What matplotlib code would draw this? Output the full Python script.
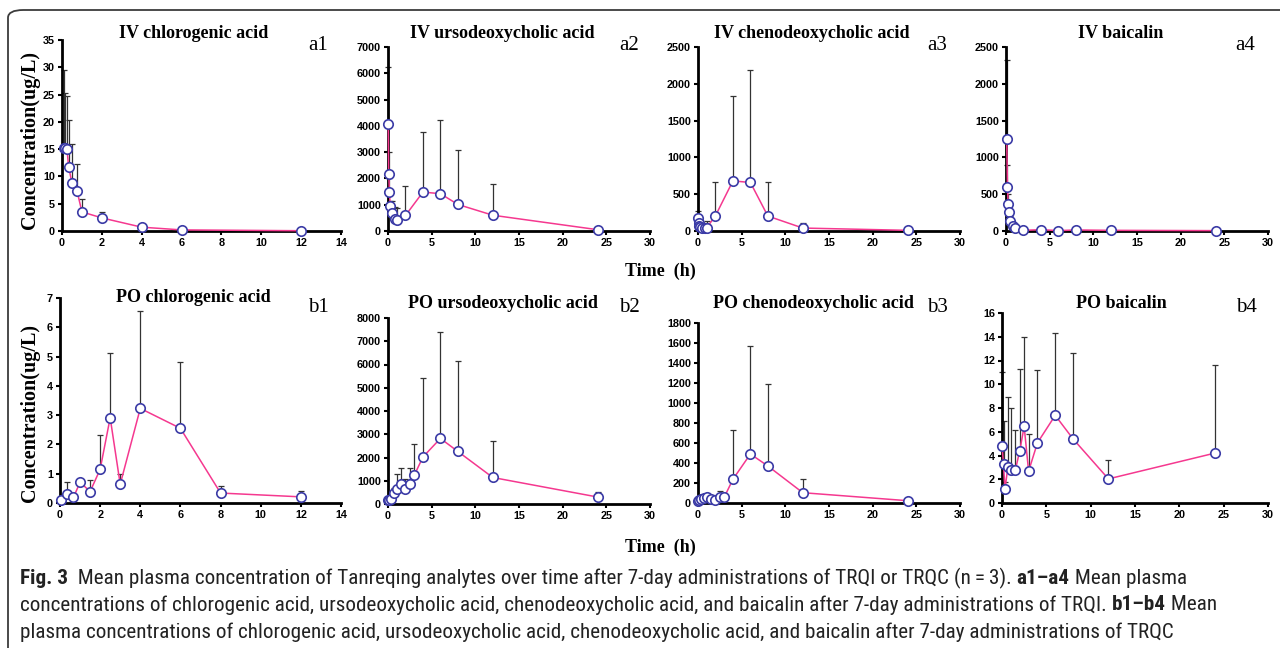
"""Fig 3: mean plasma concentration-time curves, IV (a1-a4) and PO (b1-b4)"""
import matplotlib
matplotlib.use('Agg')
import matplotlib.pyplot as plt
from matplotlib.patches import FancyBboxPatch
from matplotlib import font_manager
from matplotlib.font_manager import FontProperties
import numpy as np

W, H = 1280, 648
SERIF = 'Liberation Serif'
TICKF = 'Liberation Sans'

# ---- data (mean and mean+SD) ----
t_iv = [0.033, 0.083, 0.167, 0.25, 0.5, 0.75, 1, 2, 4, 6, 8, 12, 24]
t_po = [0.0, 0.17, 0.33, 0.67, 1, 1.5, 2, 2.5, 3, 4, 6, 8, 12, 24]

a1_t = [0.083, 0.167, 0.25, 0.33, 0.5, 0.75, 1, 2, 4, 6, 12]
a1_mean = [15.3, 15.3, 15.1, 11.8, 8.8, 7.4, 3.5, 2.4, 0.7, 0.2, 0.05]
a1_upper = [29.5, 25.3, 24.8, 20.3, 15.9, 12.2, 5.8, 3.5, 0.8, 0.25, 0.05]

a2_mean = [4070, 2180, 1490, 960, 700, 470, 400, 590, 1480, 1420, 1010, 600, 50]
a2_upper = [6250, 3000, 2000, 1150, 1150, 900, 870, 1720, 3780, 4240, 3100, 1790, 60]

a3_mean = [176, 110, 70, 50, 40, 40, 45, 207, 681, 659, 203, 40, 9]
a3_upper = [270, 180, 100, 80, 70, 110, 130, 672, 1841, 2193, 670, 105, 12]

a4_t = [0.083, 0.167, 0.25, 0.33, 0.5, 0.75, 1, 2, 4, 6, 8, 12, 24]
a4_mean = [1245, 600, 361, 253, 135, 72, 36, 9, 18, 5, 14, 9, 5]
a4_upper = [2330, 890, 500, 350, 200, 100, 50, 12, 25, 8, 20, 12, 6]

b1_t = [0.05, 0.33, 0.67, 1, 1.5, 2, 2.5, 3, 4, 6, 8, 12]
b1_mean = [0.11, 0.32, 0.19, 0.71, 0.39, 1.15, 2.91, 0.64, 3.23, 2.55, 0.34, 0.21]
b1_upper = [0.15, 0.71, 0.22, 0.75, 0.78, 2.33, 5.13, 1.0, 6.57, 4.8, 0.58, 0.41]

b2_mean = [190, 160, 200, 460, 660, 860, 660, 860, 1230, 2020, 2820, 2260, 1140, 300]
b2_upper = [250, 250, 300, 700, 1290, 1560, 1060, 1560, 2600, 5420, 7400, 6170, 2690, 530]

b3_mean = [20, 27, 37, 55, 60, 40, 33, 60, 57, 237, 490, 370, 103, 23]
b3_upper = [25, 35, 45, 70, 80, 50, 40, 117, 65, 730, 1567, 1190, 243, 30]

b4_mean = [4.82, 3.3, 1.15, 3.07, 2.79, 2.76, 4.39, 6.45, 2.68, 5.07, 7.38, 5.41, 2.03, 4.2]
b4_upper = [11.0, 6.9, 1.8, 8.96, 7.97, 6.14, 11.27, 13.94, 5.83, 11.18, 14.31, 12.62, 3.63, 11.63]

panels = [
    # title, tag, t, mean, upper, xmax, xstep, ymax, ystep, box(l, r, top, bottom px)
    ('IV chlorogenic acid', 'a1', a1_t, a1_mean, a1_upper, 14, 2, 35, 5, (62, 341, 40, 231)),
    ('IV ursodeoxycholic acid', 'a2', t_iv, a2_mean, a2_upper, 30, 5, 7000, 1000, (388, 650, 47, 231)),
    ('IV chenodeoxycholic acid', 'a3', t_iv, a3_mean, a3_upper, 30, 5, 2500, 500, (698, 960, 47, 231)),
    ('IV baicalin', 'a4', a4_t, a4_mean, a4_upper, 30, 5, 2500, 500, (1006, 1268, 47, 231)),
    ('PO chlorogenic acid', 'b1', b1_t, b1_mean, b1_upper, 14, 2, 7, 1, (60, 341, 298, 503)),
    ('PO ursodeoxycholic acid', 'b2', t_po, b2_mean, b2_upper, 30, 5, 8000, 1000, (388, 650, 318, 504)),
    ('PO chenodeoxycholic acid', 'b3', t_po, b3_mean, b3_upper, 30, 5, 1800, 200, (698, 960, 323, 503)),
    ('PO baicalin', 'b4', t_po, b4_mean, b4_upper, 30, 5, 16, 2, (1002, 1268, 313, 503)),
]
title_px = [(194, 33), (502, 33), (812, 33), (1121, 33),
            (193, 298), (503, 304), (813, 304), (1121, 304)]
tag_px = [(318, 45), (629, 45), (937, 45), (1245, 45),
          (318, 308), (629, 308), (937, 308), (1246, 308)]

LINE_C = '#F5388F'
EDGE_C = '#3B3BA6'
ERR_C = '#333333'


def fx(x):
    return x / W


def fy(y):
    return 1 - y / H


def caption_fonts():
    # prefer a condensed sans for the journal caption, if one is installed
    prefs = ['Liberation Sans Narrow', 'Roboto Condensed', 'Open Sans Condensed', 'DejaVu Sans']
    found = {}
    for f in font_manager.fontManager.ttflist:
        narrow = ('Narrow' in f.name or 'Condensed' in f.name or 'Narrow' in f.fname
                  or 'Condensed' in f.fname or str(f.stretch) in ('condensed', 'semi-condensed'))
        if not narrow or f.style != 'normal':
            continue
        w = 'bold' if str(f.weight) in ('700', 'bold') else ('normal' if str(f.weight) in ('400', 'normal', 'regular') else None)
        if w:
            found.setdefault(f.name, {})[w] = f.fname
    for p in prefs:
        if p in found and 'normal' in found[p] and 'bold' in found[p]:
            return found[p]
    return None


fig = plt.figure(figsize=(W / 100, H / 100), dpi=100)

# outer rounded frame (right edge runs off the page)
frame = FancyBboxPatch((fx(8), fy(660)), fx(1300) - fx(8), fy(10) - fy(660),
                       boxstyle='round,pad=0,rounding_size=0.012', transform=fig.transFigure,
                       fill=False, edgecolor='#3c3c3c', linewidth=1.3, clip_on=False)
fig.patches.append(frame)

for i, (title, tag, t, mean, upper, xmax, xstep, ymax, ystep, box) in enumerate(panels):
    l, r, top, bot = box
    ax = fig.add_axes([fx(l), fy(bot), fx(r) - fx(l), fy(top) - fy(bot)])
    t = np.array(t)
    mean = np.array(mean, dtype=float)
    upper = np.array(upper, dtype=float)
    ax.errorbar(t, mean, yerr=[np.zeros_like(mean), upper - mean], fmt='none',
                ecolor=ERR_C, elinewidth=0.9, capsize=2.5, capthick=0.9, zorder=2, clip_on=False)
    ax.plot(t, mean, '-', color=LINE_C, lw=1.1, zorder=3, clip_on=False)
    ax.plot(t, mean, 'o', ms=6.8, mfc='white', mec=EDGE_C, mew=1.2, zorder=4, clip_on=False)
    ax.set_xlim(0, xmax)
    ax.set_ylim(0, ymax)
    ax.set_xticks(np.arange(0, xmax + 0.1, xstep))
    ax.set_yticks(np.arange(0, ymax + 0.1 * ystep, ystep))
    for s in ('top', 'right'):
        ax.spines[s].set_visible(False)
    for s in ('left', 'bottom'):
        ax.spines[s].set_linewidth(2.0)
    ax.tick_params(direction='out', length=3, width=1.5, pad=2)
    for lab in ax.get_xticklabels() + ax.get_yticklabels():
        lab.set_fontfamily(TICKF)
        lab.set_fontweight('bold')
        lab.set_fontsize(7.8)
    ax.patch.set_alpha(0)

    fig.text(fx(title_px[i][0]), fy(title_px[i][1]), title, family=SERIF, weight='bold',
             fontsize=13, ha='center', va='center')
    fig.text(fx(tag_px[i][0]), fy(tag_px[i][1]), tag, family=SERIF, fontsize=15,
             ha='center', va='center')

# shared axis labels
for y in (140, 413):
    fig.text(fx(30), fy(y), 'Concentration(ug/L)', family=SERIF, weight='bold', fontsize=14.5,
             rotation=90, ha='center', va='center')
for y in (271, 547):
    fig.text(fx(660), fy(y), 'Time  (h)', family=SERIF, weight='bold', fontsize=13,
             ha='center', va='center')

# caption with bold runs
cap_lines = [
    [('Fig. 3', True), ('  Mean plasma concentration of Tanreqing analytes over time after 7-day '
                        'administrations of TRQI or TRQC (n\u2009=\u20093). ', False),
     ('a1\u2013a4', True), (' Mean plasma', False)],
    [('concentrations of chlorogenic acid, ursodeoxycholic acid, chenodeoxycholic acid, and '
      'baicalin after 7-day administrations of TRQI. ', False),
     ('b1\u2013b4', True), (' Mean', False)],
    [('plasma concentrations of chlorogenic acid, ursodeoxycholic acid, chenodeoxycholic acid, '
      'and baicalin after 7-day administrations of TRQC', False)],
]
cap_y = [578, 605, 632]
cap_end = [1067, 1277, 1222]   # right end of each caption line in the original
cf = caption_fonts()
renderer = fig.canvas.get_renderer()


def cap_prop(bold, size):
    if cf:
        return FontProperties(fname=cf['bold' if bold else 'normal'], size=size)
    return FontProperties(family='Liberation Sans', weight='bold' if bold else 'normal', size=size)


def draw_line(runs, y, size, keep=True):
    x = 20
    made = []
    for txt, bold in runs:
        tx = fig.text(fx(x), fy(y), txt, fontproperties=cap_prop(bold, size),
                      color='#222222', ha='left', va='center')
        x += tx.get_window_extent(renderer).width
        made.append(tx)
    if not keep:
        for tx in made:
            tx.remove()
    return x - 20


# pick one caption size that best fits the original line lengths
widths = np.array([draw_line(r, y, 13, keep=False) for r, y in zip(cap_lines, cap_y)])
targets = np.array(cap_end) - 20
k = float(np.dot(widths, targets) / np.dot(widths, widths))
cap_size = min(13 * k, 16.5)
for runs, y in zip(cap_lines, cap_y):
    draw_line(runs, y, cap_size)

fig.savefig('out.png', dpi=100)
plt.close(fig)
